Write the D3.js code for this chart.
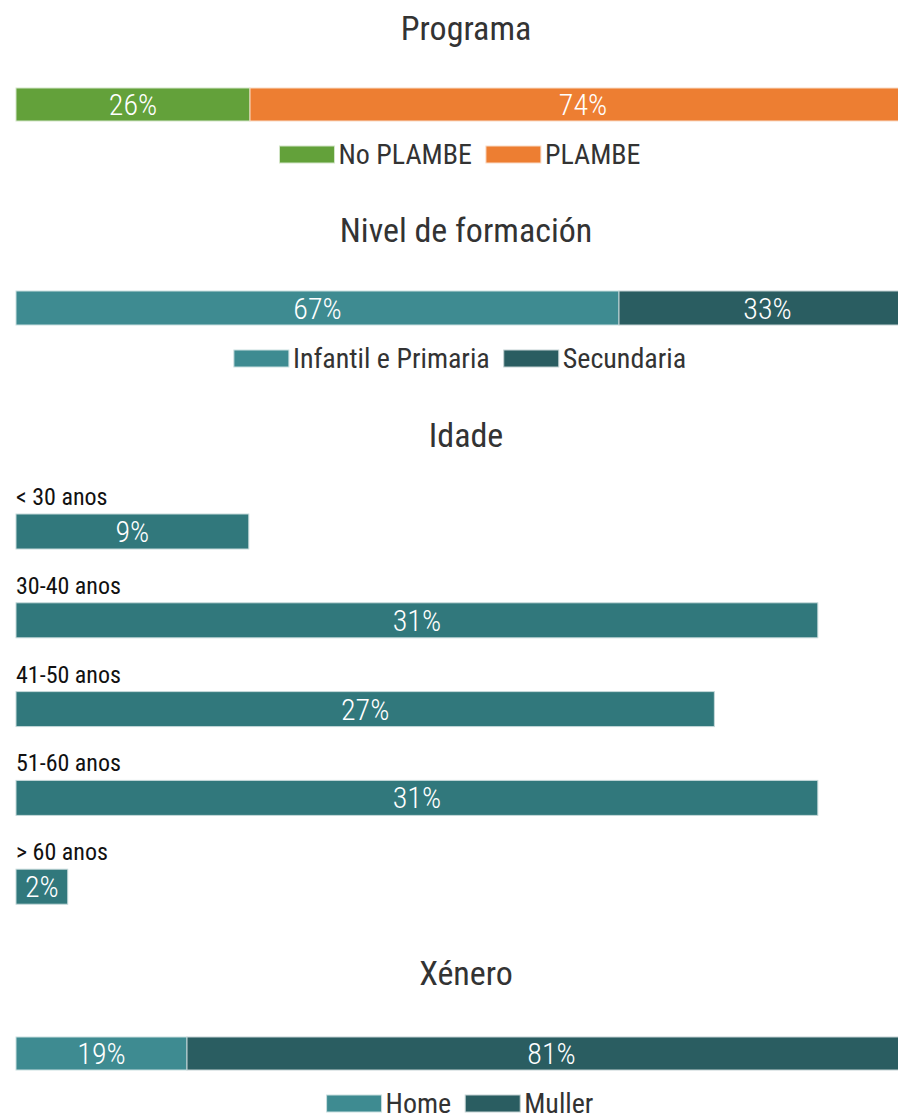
<!DOCTYPE html>
<html>
<head>
<meta charset="utf-8">
<script src="https://cdn.jsdelivr.net/npm/d3@7"></script>
<style>
  html, body { margin: 0; padding: 0; background: #fff; overflow: hidden; }
  svg { display: block; font-family: "Roboto Condensed", Roboto, "Noto Sans", sans-serif; }
</style>
</head>
<body>
<svg id="chart" width="898" height="1115"></svg>
<script>
// ---- data ----
const programaCats = ["No PLAMBE", "PLAMBE"];
const programaVals = [26, 74];
const programaColors = ["#63a13a", "#ed7e32"];

const formacionCats = ["Infantil e Primaria", "Secundaria"];
const formacionVals = [67, 33];
const formacionColors = ["#3e8b91", "#2a5d61"];

const idadeCats = ["< 30 anos", "30-40 anos", "41-50 anos", "51-60 anos", "> 60 anos"];
const idadeVals = [9, 31, 27, 31, 2];
const idadeColor = "#31787c";

const xeneroCats = ["Home", "Muller"];
const xeneroVals = [19, 81];
const xeneroColors = ["#3e8b91", "#2a5d61"];

const titles = ["Programa", "Nivel de formación", "Idade", "Xénero"];

// ---- layout ----
const svg = d3.select("#chart");
const left = 16;
const centerX = 466;
const legendCenter = 460;

// full-width stacked bar scale (percent -> px)
const xStack = d3.scaleLinear().domain([0, 100]).range([left, left + 900]);

function tint(c) { return d3.interpolateRgb(c, "#ffffff")(0.72); }

function title(text, y) {
  svg.append("text")
    .attr("x", centerX).attr("y", y)
    .attr("text-anchor", "middle")
    .attr("fill", "#333333")
    .attr("font-size", 34)
    .text(text);
}

function stackedBar(cats, vals, colors, y0, h, legendY) {
  const g = svg.append("g");
  const starts = d3.cumsum([0].concat(vals.slice(0, -1)));
  const data = vals.map((v, i) => ({ cat: cats[i], v, s: starts[i], c: colors[i] }));
  g.selectAll("rect").data(data).join("rect")
    .attr("x", d => xStack(d.s))
    .attr("y", y0)
    .attr("width", d => xStack(d.s + d.v) - xStack(d.s))
    .attr("height", h)
    .attr("fill", d => d.c)
    .attr("stroke", d => tint(d.c))
    .attr("stroke-width", 1);
  g.selectAll("text.val").data(data).join("text")
    .attr("class", "val")
    .attr("x", d => (xStack(d.s) + xStack(d.s + d.v)) / 2)
    .attr("y", y0 + h / 2 + 10.5)
    .attr("text-anchor", "middle")
    .attr("fill", "#ffffff")
    .attr("font-size", 30)
    .attr("font-weight", 300)
    .text(d => d.v + "%");

  // legend, centred
  const lg = svg.append("g");
  const sw = 55, sh = 17, gapText = 4, gapItem = 14;
  const items = lg.selectAll("g").data(data).join("g");
  items.append("rect")
    .attr("width", sw).attr("height", sh)
    .attr("y", legendY - sh)
    .attr("fill", d => d.c)
    .attr("stroke", d => tint(d.c))
    .attr("stroke-width", 1);
  items.append("text")
    .attr("x", sw + gapText)
    .attr("y", legendY + 1)
    .attr("fill", "#333333")
    .attr("font-size", 28)
    .text(d => d.cat);
  let x = 0;
  const widths = [];
  items.each(function () {
    widths.push(this.getBBox().width);
  });
  items.attr("transform", (d, i) => {
    const t = `translate(${x},0)`;
    x += widths[i] + gapItem;
    return t;
  });
  const total = x - gapItem;
  lg.attr("transform", `translate(${legendCenter - total / 2},0)`);
}

// ---- Programa ----
title(titles[0], 40);
stackedBar(programaCats, programaVals, programaColors, 88, 33, 163);

// ---- Nivel de formación ----
title(titles[1], 242);
stackedBar(formacionCats, formacionVals, formacionColors, 291, 34, 367);

// ---- Idade ----
title(titles[2], 447);
const xIdade = d3.scaleLinear().domain([0, d3.max(idadeVals) * 1.1]).range([left, 898]);
const yIdade = d3.scaleBand().domain(idadeCats).range([480, 924]).paddingInner(0).paddingOuter(0);
const bandH = 35;
const ig = svg.append("g");
const rows = ig.selectAll("g").data(idadeCats.map((c, i) => ({ c, v: idadeVals[i] }))).join("g")
  .attr("transform", d => `translate(0,${yIdade(d.c)})`);
rows.append("text")
  .attr("x", left).attr("y", 25)
  .attr("fill", "#111111")
  .attr("font-size", 24)
  .text(d => d.c);
rows.append("rect")
  .attr("x", left).attr("y", 34)
  .attr("width", d => xIdade(d.v) - left)
  .attr("height", bandH)
  .attr("fill", idadeColor)
  .attr("stroke", tint(idadeColor))
  .attr("stroke-width", 1);
rows.append("text")
  .attr("x", d => (left + xIdade(d.v)) / 2)
  .attr("y", 34 + bandH / 2 + 10.5)
  .attr("text-anchor", "middle")
  .attr("fill", "#ffffff")
  .attr("font-size", 30)
  .attr("font-weight", 300)
  .text(d => d.v + "%");

// ---- Xénero ----
title(titles[3], 985);
stackedBar(xeneroCats, xeneroVals, xeneroColors, 1037, 33, 1112);
</script>
</body>
</html>
